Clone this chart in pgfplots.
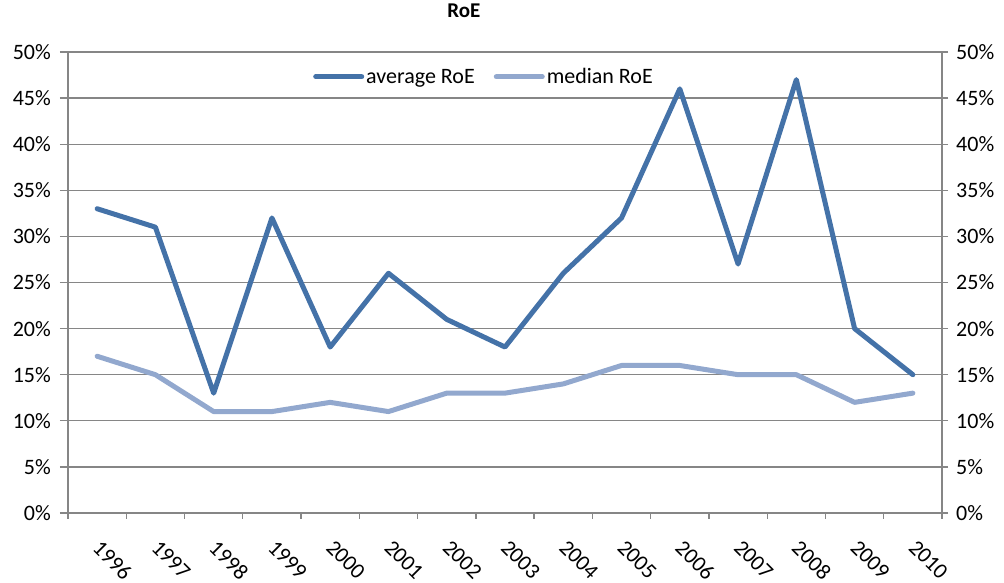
\documentclass[border=0pt]{standalone}
\usepackage{fontspec}
\setmainfont{Carlito}
\usepackage{pgfplots}
\pgfplotsset{compat=1.18}
\definecolor{avgc}{RGB}{68,114,168}
\definecolor{medc}{RGB}{146,168,206}
\definecolor{gridc}{RGB}{134,134,134}
\begin{document}
\begin{tikzpicture}
\pgfplotsset{
 common/.style={
  at={(0pt,0pt)}, anchor=south west,
  scale only axis, width=874pt, height=461pt,
  xmin=-0.5, xmax=14.5, ymin=0, ymax=50,
  ytick={0,5,...,50},
  yticklabels={0\%,5\%,10\%,15\%,20\%,25\%,30\%,35\%,40\%,45\%,50\%},
  tick label style={font=\fontsize{22}{26}\selectfont},
  axis line style={gridc, line width=1.3pt},
  tick style={gridc, line width=1.3pt},
  tick align=outside,
 }
}
\begin{axis}[common,
  axis x line*=bottom, axis y line*=left,
  ymajorgrids, major grid style={gridc, line width=1.3pt},
  major tick length=8pt,
  xtick={0,...,14},
  xtick style={draw=none},
  xticklabels={1996,1997,1998,1999,2000,2001,2002,2003,2004,2005,2006,2007,2008,2009,2010},
  xticklabel style={rotate=-45, anchor=north west, inner sep=0pt, xshift=16pt, yshift=-9pt},
  yticklabel style={anchor=east, inner sep=0pt, xshift=-9pt},
  title=RoE,
  title style={font=\bfseries\fontsize{21}{25}\selectfont, at={(0.453,1)}, anchor=base, yshift=28pt},
  legend columns=2,
  legend style={draw=none, fill=none, at={(0.476,0.946)}, anchor=center,
    font=\fontsize{22}{26}\selectfont,
    /tikz/every even column/.append style={column sep=17pt}},
  legend image code/.code={\draw[#1, line width=5pt] (0pt,0pt) -- (46pt,0pt);},
]
\addplot[avgc, line width=5pt, line cap=round, line join=round] coordinates {
 (0,33) (1,31) (2,13) (3,32) (4,18) (5,26) (6,21) (7,18) (8,26) (9,32) (10,46) (11,27) (12,47) (13,20) (14,15)};
\addlegendentry{average RoE}
\addplot[medc, line width=5pt, line cap=round, line join=round] coordinates {
 (0,17) (1,15) (2,11) (3,11) (4,12) (5,11) (6,13) (7,13) (8,14) (9,16) (10,16) (11,15) (12,15) (13,12) (14,13)};
\addlegendentry{median RoE}
\end{axis}
\begin{axis}[common,
  axis x line*=bottom, axis y line*=right,
  major tick length=6pt,
  xtick={-0.5,0.5,...,14.5}, xticklabels={},
  yticklabel pos=right,
  yticklabel style={anchor=west, inner sep=0pt, xshift=8pt},
]
\end{axis}
\pgfresetboundingbox
\useasboundingbox (-68pt,-70pt) rectangle (936pt,513pt);
\end{tikzpicture}
\end{document}
